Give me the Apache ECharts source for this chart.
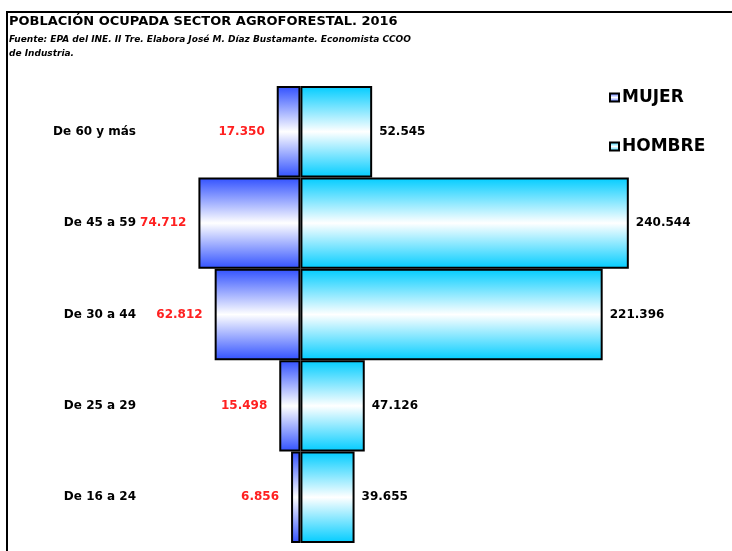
<!DOCTYPE html>
<html>
<head>
<meta charset="utf-8">
<script src="https://cdn.jsdelivr.net/npm/echarts@6/dist/echarts.min.js"></script>
<style>
  html, body { margin: 0; padding: 0; background: #fff; }
  #chart { width: 732px; height: 551px; }
</style>
</head>
<body>
<div id="chart"></div>
<script>
const categories = ['De 60 y más', 'De 45 a 59', 'De 30 a 44', 'De 25 a 29', 'De 16 a 24']
const mujer = [17350, 74712, 62812, 15498, 6856]
const hombre = [52545, 240544, 221396, 47126, 39655]

const font = 'DejaVu Sans'

// 17350 -> "17.350"
function fmt(v) {
    return Math.abs(v).toString().replace(/\B(?=(\d{3})+(?!\d))/g, '.')
}

function grad(c) {
    return new echarts.graphic.LinearGradient(0, 0, 0, 1, [
        { offset: 0, color: c },
        { offset: 0.5, color: '#ffffff' },
        { offset: 1, color: c }
    ])
}

const myChart = echarts.init(document.getElementById('chart'))

const option = {
    backgroundColor: '#fff',
    animation: false,
    title: {
        left: 9,
        top: 15,
        padding: 0,
        itemGap: 5,
        text: 'POBLACIÓN OCUPADA SECTOR AGROFORESTAL. 2016',
        textStyle: { fontFamily: font, fontSize: 13, fontWeight: 'bold', color: '#000' },
        subtext: 'Fuente: EPA del INE. II Tre. Elabora José M. Díaz Bustamante. Economista CCOO\nde Industria.',
        subtextStyle: {
            fontFamily: font, fontSize: 9, fontStyle: 'italic', fontWeight: 'bold',
            color: '#000', lineHeight: 14
        }
    },
    graphic: [{
        type: 'rect',
        shape: { x: 7, y: 12, width: 760, height: 600 },
        style: { fill: null, stroke: '#000', lineWidth: 2 },
        z: 100
    }],
    legend: {
        orient: 'vertical',
        left: 604,
        top: 84,
        icon: 'rect',
        itemWidth: 9,
        itemHeight: 8,
        itemGap: 32,
        textStyle: { fontFamily: font, fontSize: 17, fontWeight: 'bold', color: '#000', padding: [0, 0, 0, -2] },
        data: ['MUJER', 'HOMBRE']
    },
    grid: {
        left: 140,
        right: 22,
        top: 86,
        bottom: 8
    },
    xAxis: {
        type: 'value',
        min: -117500,
        max: 300000,
        show: false
    },
    yAxis: {
        type: 'category',
        inverse: true,
        data: categories,
        axisLine: { show: false },
        axisTick: { show: false },
        axisLabel: {
            margin: 4,
            fontFamily: font,
            fontSize: 12,
            fontWeight: 'bold',
            color: '#000'
        }
    },
    series: [
        {
            name: 'MUJER',
            type: 'bar',
            data: mujer.map(v => -v),
            barGap: '-100%',
            barCategoryGap: '0%',
            itemStyle: { color: grad('#3050ff'), borderColor: '#000', borderWidth: 2 },
            label: {
                show: true,
                position: 'left',
                distance: 12,
                formatter: p => fmt(p.value),
                fontFamily: font,
                fontSize: 12,
                fontWeight: 'bold',
                color: '#ff2020'
            }
        },
        {
            name: 'HOMBRE',
            type: 'bar',
            data: hombre,
            barGap: '-100%',
            barCategoryGap: '0%',
            itemStyle: { color: grad('#00ccff'), borderColor: '#000', borderWidth: 2 },
            label: {
                show: true,
                position: 'right',
                distance: 7,
                formatter: p => fmt(p.value),
                fontFamily: font,
                fontSize: 12,
                fontWeight: 'bold',
                color: '#000'
            }
        }
    ]
}

myChart.setOption(option)
</script>
</body>
</html>
